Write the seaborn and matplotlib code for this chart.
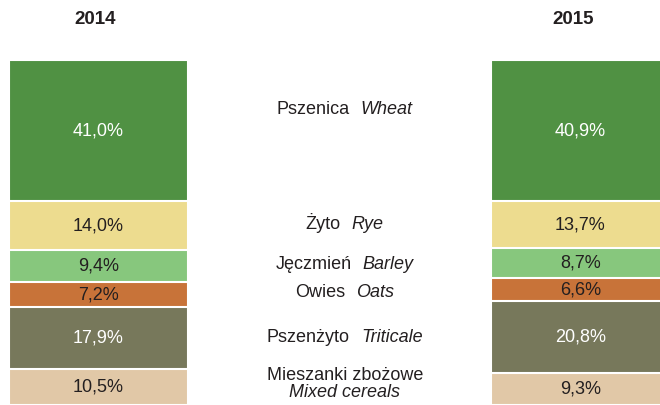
import numpy as np
import pandas as pd
import matplotlib
matplotlib.use("Agg")
import matplotlib.pyplot as plt
import seaborn as sns
from matplotlib.offsetbox import TextArea, HPacker, VPacker, AnnotationBbox

# dane: struktura zasiewów zbóż (%)
lata = ["2014", "2015"]
zboza_pl = ["Pszenica", "Żyto", "Jęczmień", "Owies", "Pszenżyto", "Mieszanki zbożowe"]
zboza_en = ["Wheat", "Rye", "Barley", "Oats", "Triticale", "Mixed cereals"]
udzial_2014 = [41.0, 14.0, 9.4, 7.2, 17.9, 10.5]
udzial_2015 = [40.9, 13.7, 8.7, 6.6, 20.8, 9.3]

kolory = ["#509143", "#EDDC8F", "#87C77D", "#C87339", "#77785B", "#E1C8A7"]
kolor_tekstu = ["white", "#231F20", "#231F20", "#231F20", "white", "#231F20"]

sns.set_style("white")
plt.rcParams["font.family"] = ["Liberation Sans", "DejaVu Sans"]

udzialy = np.array([udzial_2014, udzial_2015])
cum = np.cumsum(udzialy, axis=1)

fig = plt.figure(figsize=(6.6, 4.05), dpi=100)
ax = fig.add_axes([0, 0, 1, 345 / 405])

# słupki skumulowane - rysowane od największej sumy
for i in reversed(range(len(zboza_pl))):
    df = pd.DataFrame({"Rok": lata, "Suma": cum[:, i]})
    sns.barplot(data=df, x="Rok", y="Suma", color=kolory[i], width=0.373,
                saturation=1, edgecolor="white", linewidth=1.5, ax=ax)

ax.set_xlim(-0.2044, 1.165)
ax.set_ylim(100, 0)
ax.axis("off")

# etykiety wartości
for j in range(len(lata)):
    for i in range(len(zboza_pl)):
        mid = cum[j, i] - udzialy[j, i] / 2
        ax.text(j, mid, f"{udzialy[j, i]:.1f}%".replace(".", ","),
                ha="center", va="center", fontsize=13, color=kolor_tekstu[i])

# nagłówki lat
fig.text(95 / 660, 1 - 19 / 405, "2014", ha="center", va="center",
         fontsize=13.5, fontweight="bold", color="#231F20")
fig.text(573 / 660, 1 - 19 / 405, "2015", ha="center", va="center",
         fontsize=13.5, fontweight="bold", color="#231F20")

# opisy kategorii w środku
srodki = (cum - udzialy / 2).mean(axis=0)
przesuniecie = [-6.2, -0.6, 0, 0, 0, -1.0]
styl = dict(fontsize=13, color="#231F20")
for i in range(len(zboza_pl)):
    pl = TextArea(zboza_pl[i], textprops=styl)
    en = TextArea(zboza_en[i], textprops=dict(style="italic", **styl))
    if i == len(zboza_pl) - 1:
        box = VPacker(children=[pl, en], align="center", pad=0, sep=0)
    else:
        box = HPacker(children=[pl, en], align="baseline", pad=0, sep=8)
    ab = AnnotationBbox(box, (0.511, srodki[i] + przesuniecie[i]), xycoords="data",
                        frameon=False, box_alignment=(0.5, 0.5), annotation_clip=False)
    ax.add_artist(ab)

fig.savefig("out.png", dpi=100)
